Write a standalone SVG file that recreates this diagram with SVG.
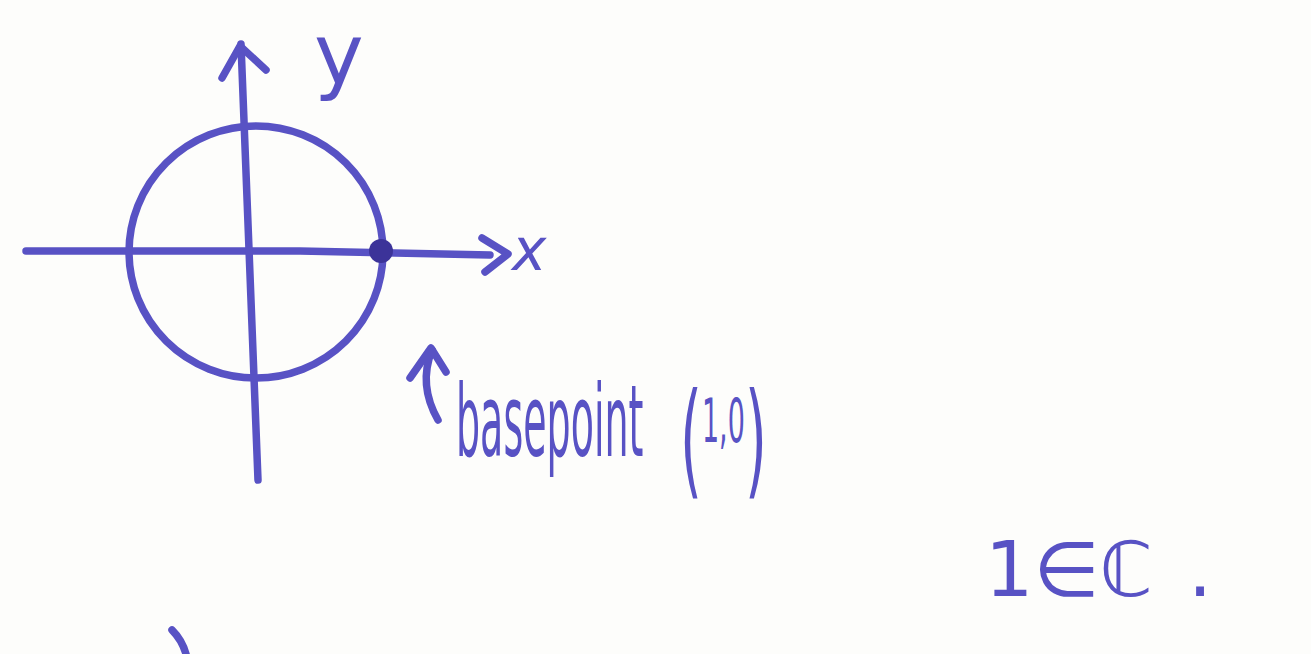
<svg xmlns="http://www.w3.org/2000/svg" width="1311" height="654" viewBox="0 0 1311 654">
<style>
.ink{fill:none;stroke:#5852c4;stroke-width:7.5;stroke-linecap:round;stroke-linejoin:round}
.txt{fill:#5852c4;font-family:"DejaVu Sans","Liberation Sans",sans-serif}
</style>
<rect width="1311" height="654" fill="#fdfdfb"/>
<g id="axes">
<path class="ink" d="M26,251 L300,251 L490,255"/>
<path class="ink" d="M482,238 L508,254 L485,272"/>
<path class="ink" d="M241,44 Q250,250 258,480"/>
<path class="ink" d="M222,78 L240,46 L266,70"/>
</g>
<g id="circle">
<ellipse class="ink" cx="256" cy="252" rx="127" ry="126"/>
</g>
<g id="basepoint">
<circle cx="381" cy="251" r="12" fill="#3c3399"/>
<path class="ink" d="M432,350 Q418,385 438,420"/>
<path class="ink" d="M410,378 L431,348 L446,372"/>
</g>
<g id="labels">
<text class="txt" x="314" y="84" font-size="84">y</text>
<text class="txt" x="512" y="270" font-size="58" font-style="italic">x</text>
<text class="txt" transform="translate(456,456) scale(0.38,1)" font-size="100">basepoint</text>
<text class="txt" transform="translate(680,482) scale(0.45,1)" font-size="125">(<tspan font-size="60" dy="-40">1,0</tspan><tspan dy="40">)</tspan></text>
<text class="txt" x="985" y="596" font-size="76">1∈ℂ<tspan x="1188">.</tspan></text>
</g>
<path class="ink" d="M172,630 Q182,640 186,654"/>
</svg>
